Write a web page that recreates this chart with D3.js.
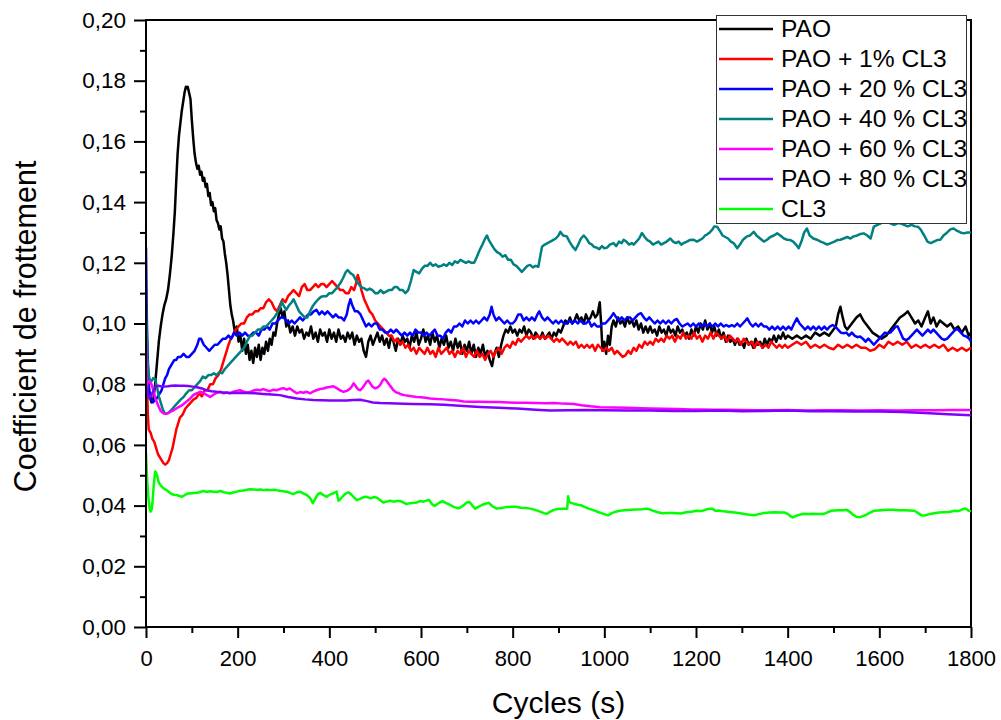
<!DOCTYPE html>
<html><head><meta charset="utf-8">
<script src="https://cdn.jsdelivr.net/npm/d3@7"></script>
<style>body{margin:0;background:#fff}svg{display:block}</style>
</head><body>
<svg id="c" width="1001" height="720"></svg>
<script>
const seriesNames = ["PAO","PAO + 1% CL3","PAO + 20 % CL3","PAO + 40 % CL3","PAO + 60 % CL3","PAO + 80 % CL3","CL3"];
const seriesColors = ["#000000","#ff0000","#0000ff","#008080","#ff00ff","#8000ff","#00ff00"];
const xTicks = [0,200,400,600,800,1000,1200,1400,1600,1800];
const yTicks = [0,0.02,0.04,0.06,0.08,0.10,0.12,0.14,0.16,0.18,0.20];
const xTitle = "Cycles (s)";
const yTitle = "Coefficient de frottement";

const pao = [[0,0.082],[4,0.079],[8,0.076],[12,0.074],[16,0.075],[20,0.080],[24,0.087],[28,0.094],[32,0.099],[36,0.103],[40,0.106],[44,0.108],[48,0.111],[52,0.116],[56,0.122],[60,0.130],[63,0.137],[66,0.147],[69,0.156],[72,0.162],[75,0.166],[78,0.170],[81,0.173],[84,0.176],[87,0.178],[89,0.1775],[91,0.178],[94,0.176],[97,0.174],[100,0.167],[103,0.161],[106,0.156],[109,0.153],[112,0.151],[115,0.152],[118,0.149],[121,0.150],[124,0.147],[127,0.148],[130,0.145],[133,0.146],[136,0.142],[139,0.143],[142,0.139],[145,0.140],[148,0.137],[151,0.138],[154,0.134],[157,0.133],[160,0.131],[163,0.132],[166,0.128],[169,0.127],[172,0.123],[175,0.120],[178,0.116],[181,0.111],[184,0.106],[187,0.103],[190,0.101],[194,0.097],[198,0.099],[202,0.094],[206,0.096],[210,0.091],[214,0.095],[218,0.090],[222,0.093],[226,0.088],[230,0.091],[234,0.087],[238,0.092],[242,0.089],[246,0.093],[250,0.088],[254,0.092],[258,0.090],[262,0.094],[266,0.091],[270,0.095],[274,0.093],[278,0.097],[282,0.096],[286,0.100],[290,0.103],[294,0.105],[298,0.102],[302,0.104],[306,0.099],[310,0.101],[315,0.097],[320,0.099],[325,0.096],[330,0.099],[335,0.097],[340,0.098],[345,0.095],[350,0.097],[355,0.096],[360,0.099],[365,0.095],[370,0.097],[375,0.094],[380,0.098],[385,0.096],[390,0.097],[395,0.094],[400,0.098],[405,0.095],[410,0.097],[415,0.094],[420,0.098],[425,0.095],[430,0.096],[435,0.094],[440,0.097],[445,0.095],[450,0.097],[455,0.093],[460,0.096],[465,0.094],[470,0.095],[475,0.091],[480,0.089],[485,0.094],[490,0.096],[495,0.093],[500,0.095],[505,0.097],[510,0.094],[515,0.096],[520,0.093],[525,0.095],[530,0.092],[535,0.096],[540,0.094],[545,0.091],[550,0.095],[555,0.093],[560,0.096],[565,0.094],[570,0.095],[575,0.092],[580,0.096],[585,0.094],[590,0.097],[595,0.093],[600,0.095],[605,0.098],[610,0.094],[615,0.096],[620,0.093],[625,0.097],[630,0.094],[635,0.096],[640,0.092],[645,0.095],[650,0.093],[655,0.096],[660,0.092],[665,0.094],[670,0.091],[675,0.095],[680,0.092],[685,0.094],[690,0.090],[695,0.093],[700,0.091],[705,0.094],[710,0.090],[715,0.093],[720,0.089],[725,0.092],[730,0.090],[735,0.093],[740,0.089],[745,0.091],[750,0.088],[755,0.086],[760,0.090],[765,0.092],[770,0.089],[775,0.093],[780,0.096],[785,0.098],[790,0.097],[795,0.099],[800,0.097],[805,0.098],[810,0.096],[815,0.098],[820,0.097],[825,0.099],[830,0.096],[835,0.098],[840,0.097],[845,0.095],[850,0.097],[855,0.096],[860,0.095],[865,0.097],[870,0.095],[875,0.096],[880,0.097],[885,0.095],[890,0.097],[895,0.096],[900,0.098],[905,0.097],[910,0.099],[915,0.101],[920,0.100],[925,0.102],[930,0.100],[935,0.101],[940,0.103],[945,0.101],[950,0.102],[955,0.100],[960,0.103],[965,0.101],[970,0.102],[975,0.104],[980,0.102],[985,0.103],[990,0.107],[993,0.100],[996,0.091],[1000,0.094],[1004,0.090],[1008,0.096],[1012,0.093],[1016,0.099],[1020,0.101],[1025,0.099],[1030,0.102],[1035,0.100],[1040,0.101],[1045,0.099],[1050,0.102],[1055,0.100],[1060,0.101],[1065,0.099],[1070,0.101],[1075,0.098],[1080,0.100],[1085,0.097],[1090,0.099],[1095,0.097],[1100,0.099],[1105,0.097],[1110,0.098],[1115,0.096],[1120,0.099],[1125,0.097],[1130,0.098],[1135,0.096],[1140,0.099],[1145,0.097],[1150,0.098],[1155,0.096],[1160,0.099],[1165,0.097],[1170,0.098],[1175,0.096],[1180,0.097],[1185,0.095],[1190,0.098],[1195,0.096],[1200,0.099],[1205,0.097],[1210,0.100],[1215,0.098],[1220,0.101],[1225,0.098],[1230,0.100],[1235,0.097],[1240,0.099],[1245,0.096],[1250,0.098],[1255,0.095],[1260,0.097],[1265,0.094],[1270,0.096],[1275,0.094],[1280,0.095],[1285,0.093],[1290,0.095],[1295,0.093],[1300,0.094],[1305,0.092],[1310,0.095],[1315,0.093],[1320,0.094],[1325,0.092],[1330,0.095],[1335,0.093],[1340,0.094],[1345,0.092],[1350,0.095],[1355,0.093],[1360,0.095],[1365,0.094],[1370,0.096],[1375,0.094],[1380,0.096],[1385,0.095],[1390,0.097],[1395,0.095],[1400,0.096],[1410,0.095],[1420,0.096],[1430,0.095],[1440,0.096],[1450,0.095],[1460,0.097],[1470,0.096],[1480,0.097],[1490,0.096],[1500,0.098],[1505,0.099],[1510,0.103],[1515,0.1055],[1520,0.102],[1525,0.099],[1530,0.098],[1540,0.100],[1550,0.102],[1558,0.103],[1565,0.101],[1575,0.099],[1585,0.097],[1595,0.096],[1605,0.095],[1615,0.096],[1625,0.098],[1635,0.100],[1645,0.102],[1655,0.103],[1662,0.104],[1670,0.102],[1678,0.100],[1685,0.101],[1692,0.099],[1700,0.102],[1706,0.104],[1712,0.100],[1718,0.102],[1725,0.099],[1732,0.101],[1740,0.100],[1748,0.099],[1756,0.100],[1764,0.098],[1772,0.099],[1780,0.097],[1788,0.099],[1795,0.096],[1800,0.097]];

const pao1 = [[0,0.094],[2,0.082],[4,0.070],[6,0.065],[10,0.064],[14,0.062],[18,0.061],[22,0.059],[26,0.057],[30,0.056],[34,0.055],[38,0.054],[42,0.0535],[46,0.054],[50,0.055],[54,0.057],[58,0.059],[62,0.062],[66,0.065],[70,0.067],[74,0.069],[80,0.070],[86,0.072],[92,0.073],[98,0.074],[104,0.075],[110,0.0755],[116,0.077],[122,0.076],[128,0.078],[134,0.078],[140,0.080],[146,0.080],[152,0.082],[158,0.083],[164,0.085],[168,0.087],[172,0.089],[176,0.091],[180,0.093],[185,0.095],[190,0.096],[196,0.098],[202,0.099],[208,0.100],[214,0.100],[220,0.102],[226,0.103],[232,0.103],[238,0.104],[244,0.104],[250,0.105],[256,0.105],[262,0.107],[268,0.108],[274,0.107],[280,0.105],[286,0.104],[292,0.106],[298,0.108],[304,0.107],[310,0.109],[316,0.110],[322,0.111],[328,0.110],[334,0.109],[340,0.112],[346,0.113],[352,0.111],[358,0.111],[364,0.112],[370,0.113],[376,0.112],[382,0.113],[388,0.113],[394,0.112],[400,0.113],[406,0.114],[412,0.113],[418,0.112],[424,0.111],[430,0.111],[436,0.110],[442,0.110],[448,0.112],[454,0.111],[458,0.113],[462,0.116],[466,0.114],[470,0.111],[476,0.108],[482,0.106],[488,0.104],[494,0.103],[500,0.101],[506,0.100],[512,0.099],[518,0.098],[524,0.097],[530,0.096],[536,0.096],[542,0.094],[548,0.095],[554,0.093],[560,0.094],[566,0.092],[572,0.093],[578,0.091],[584,0.092],[590,0.090],[596,0.092],[602,0.091],[608,0.090],[614,0.092],[620,0.090],[626,0.091],[632,0.089],[638,0.092],[644,0.090],[650,0.091],[656,0.092],[662,0.090],[668,0.091],[674,0.089],[680,0.091],[686,0.090],[692,0.092],[698,0.089],[704,0.091],[710,0.090],[716,0.089],[722,0.091],[728,0.089],[734,0.090],[740,0.088],[746,0.090],[752,0.091],[758,0.089],[764,0.091],[770,0.092],[776,0.090],[782,0.092],[788,0.093],[794,0.092],[800,0.094],[806,0.093],[812,0.095],[818,0.094],[824,0.095],[830,0.096],[836,0.095],[842,0.096],[848,0.095],[854,0.096],[860,0.095],[866,0.096],[872,0.095],[878,0.096],[884,0.095],[890,0.094],[896,0.095],[902,0.094],[908,0.095],[914,0.094],[920,0.093],[926,0.094],[932,0.093],[938,0.094],[944,0.092],[950,0.093],[956,0.092],[962,0.093],[968,0.092],[974,0.093],[980,0.091],[986,0.093],[992,0.092],[998,0.091],[1004,0.092],[1010,0.091],[1016,0.092],[1022,0.090],[1028,0.091],[1034,0.090],[1040,0.089],[1046,0.0895],[1052,0.091],[1058,0.090],[1064,0.092],[1070,0.091],[1076,0.093],[1082,0.092],[1088,0.094],[1094,0.093],[1100,0.094],[1106,0.093],[1112,0.095],[1118,0.094],[1124,0.095],[1130,0.094],[1136,0.096],[1142,0.095],[1148,0.096],[1154,0.094],[1160,0.096],[1166,0.095],[1172,0.097],[1178,0.095],[1184,0.096],[1190,0.095],[1196,0.097],[1202,0.095],[1208,0.096],[1214,0.094],[1220,0.096],[1226,0.095],[1232,0.097],[1238,0.095],[1244,0.097],[1250,0.096],[1256,0.095],[1262,0.096],[1268,0.094],[1274,0.096],[1280,0.095],[1286,0.094],[1292,0.095],[1298,0.093],[1304,0.095],[1310,0.094],[1316,0.093],[1322,0.094],[1328,0.092],[1334,0.094],[1340,0.093],[1346,0.092],[1352,0.093],[1358,0.092],[1364,0.094],[1370,0.093],[1376,0.092],[1382,0.093],[1388,0.092],[1394,0.093],[1400,0.092],[1410,0.093],[1420,0.094],[1430,0.093],[1440,0.094],[1450,0.092],[1460,0.093],[1470,0.092],[1480,0.093],[1490,0.092],[1500,0.0915],[1510,0.093],[1520,0.092],[1530,0.093],[1540,0.092],[1550,0.093],[1560,0.092],[1570,0.092],[1580,0.091],[1590,0.0915],[1600,0.093],[1610,0.092],[1620,0.094],[1630,0.093],[1640,0.094],[1650,0.093],[1660,0.094],[1670,0.092],[1680,0.093],[1690,0.092],[1700,0.093],[1710,0.092],[1720,0.093],[1730,0.092],[1740,0.093],[1750,0.091],[1760,0.092],[1770,0.091],[1780,0.092],[1790,0.091],[1800,0.092]];

const pao20 = [[0,0.125],[1,0.112],[2,0.100],[4,0.088],[6,0.080],[9,0.076],[12,0.075],[15,0.074],[18,0.0745],[22,0.075],[26,0.076],[30,0.077],[34,0.078],[38,0.080],[42,0.082],[46,0.083],[50,0.085],[54,0.086],[58,0.087],[62,0.088],[66,0.088],[70,0.089],[76,0.089],[82,0.090],[88,0.089],[94,0.089],[100,0.090],[106,0.091],[112,0.093],[116,0.095],[120,0.095],[126,0.093],[132,0.092],[138,0.091],[144,0.092],[150,0.093],[156,0.093],[162,0.094],[168,0.095],[174,0.095],[180,0.096],[186,0.095],[192,0.097],[198,0.096],[204,0.097],[210,0.096],[216,0.097],[222,0.096],[228,0.096],[234,0.097],[240,0.097],[246,0.096],[252,0.098],[258,0.098],[264,0.099],[270,0.098],[276,0.100],[282,0.100],[288,0.101],[294,0.102],[300,0.102],[306,0.101],[312,0.100],[318,0.101],[324,0.100],[330,0.101],[336,0.102],[342,0.101],[348,0.102],[354,0.103],[360,0.103],[366,0.104],[372,0.1045],[378,0.103],[384,0.104],[390,0.103],[396,0.104],[402,0.103],[408,0.102],[414,0.103],[420,0.102],[426,0.102],[432,0.101],[438,0.103],[442,0.106],[446,0.108],[450,0.106],[456,0.104],[462,0.104],[468,0.103],[474,0.101],[480,0.099],[486,0.100],[492,0.099],[498,0.100],[504,0.100],[510,0.098],[516,0.098],[522,0.097],[528,0.097],[534,0.098],[540,0.097],[546,0.098],[552,0.097],[558,0.096],[564,0.097],[570,0.096],[576,0.097],[582,0.096],[588,0.098],[594,0.097],[600,0.097],[606,0.096],[612,0.097],[618,0.096],[624,0.097],[630,0.098],[636,0.096],[642,0.096],[648,0.095],[654,0.097],[660,0.098],[666,0.097],[672,0.099],[678,0.099],[684,0.100],[690,0.099],[696,0.101],[702,0.100],[708,0.101],[714,0.100],[720,0.101],[726,0.100],[732,0.101],[738,0.102],[744,0.101],[750,0.103],[754,0.1055],[758,0.103],[764,0.101],[770,0.102],[776,0.101],[782,0.100],[788,0.101],[794,0.100],[800,0.100],[806,0.101],[812,0.103],[818,0.103],[824,0.101],[830,0.102],[836,0.101],[842,0.102],[848,0.101],[854,0.103],[858,0.104],[864,0.102],[870,0.101],[876,0.102],[882,0.101],[888,0.100],[894,0.101],[900,0.100],[906,0.101],[912,0.100],[918,0.100],[924,0.101],[930,0.100],[936,0.101],[942,0.100],[948,0.101],[954,0.100],[960,0.100],[966,0.101],[972,0.099],[978,0.100],[984,0.099],[990,0.099],[996,0.100],[1002,0.100],[1008,0.101],[1014,0.102],[1020,0.1034],[1026,0.102],[1032,0.101],[1038,0.102],[1044,0.101],[1050,0.102],[1056,0.102],[1062,0.101],[1068,0.102],[1074,0.103],[1080,0.1034],[1086,0.102],[1092,0.101],[1098,0.102],[1104,0.101],[1110,0.100],[1116,0.101],[1122,0.100],[1128,0.101],[1134,0.100],[1140,0.101],[1146,0.100],[1152,0.101],[1158,0.1015],[1164,0.100],[1170,0.099],[1176,0.0995],[1182,0.100],[1188,0.099],[1194,0.100],[1200,0.099],[1206,0.100],[1212,0.099],[1218,0.100],[1224,0.099],[1230,0.100],[1236,0.099],[1242,0.100],[1248,0.099],[1254,0.100],[1260,0.099],[1266,0.0995],[1272,0.099],[1278,0.0995],[1284,0.099],[1290,0.100],[1296,0.099],[1302,0.100],[1308,0.101],[1312,0.1017],[1318,0.100],[1324,0.099],[1330,0.100],[1336,0.099],[1342,0.100],[1348,0.099],[1354,0.099],[1360,0.098],[1366,0.099],[1372,0.098],[1378,0.099],[1384,0.098],[1390,0.099],[1396,0.098],[1402,0.099],[1408,0.098],[1414,0.100],[1420,0.1017],[1426,0.100],[1432,0.099],[1438,0.098],[1444,0.099],[1450,0.098],[1456,0.099],[1462,0.098],[1468,0.099],[1474,0.098],[1480,0.099],[1486,0.098],[1492,0.099],[1498,0.0995],[1504,0.099],[1510,0.098],[1516,0.097],[1522,0.0968],[1528,0.097],[1534,0.096],[1540,0.097],[1546,0.096],[1552,0.0955],[1558,0.0957],[1564,0.095],[1570,0.094],[1576,0.095],[1582,0.094],[1588,0.093],[1594,0.094],[1600,0.095],[1606,0.096],[1612,0.097],[1618,0.0968],[1624,0.097],[1630,0.098],[1636,0.099],[1640,0.099],[1646,0.097],[1652,0.095],[1658,0.0945],[1664,0.095],[1670,0.096],[1676,0.097],[1682,0.098],[1688,0.097],[1694,0.096],[1700,0.097],[1706,0.098],[1712,0.097],[1718,0.098],[1724,0.097],[1730,0.096],[1736,0.095],[1742,0.0946],[1748,0.095],[1754,0.096],[1760,0.097],[1766,0.098],[1772,0.098],[1778,0.097],[1784,0.096],[1790,0.0957],[1796,0.095],[1800,0.094]];

const pao40 = [[0,0.110],[1,0.100],[3,0.088],[6,0.083],[9,0.081],[12,0.081],[16,0.082],[20,0.0817],[24,0.079],[28,0.076],[32,0.074],[36,0.072],[40,0.0705],[44,0.0703],[48,0.0705],[52,0.071],[58,0.072],[64,0.073],[70,0.074],[76,0.075],[82,0.0758],[88,0.077],[94,0.078],[100,0.078],[106,0.079],[112,0.080],[118,0.081],[124,0.0825],[130,0.082],[136,0.083],[142,0.083],[148,0.0836],[154,0.083],[160,0.084],[166,0.0836],[172,0.085],[178,0.086],[184,0.087],[190,0.088],[196,0.089],[202,0.090],[208,0.091],[214,0.092],[220,0.094],[226,0.0957],[232,0.096],[238,0.097],[244,0.098],[250,0.098],[256,0.099],[262,0.099],[268,0.100],[274,0.101],[280,0.102],[286,0.1034],[292,0.105],[296,0.1072],[300,0.106],[306,0.1045],[312,0.106],[318,0.107],[322,0.108],[328,0.106],[334,0.104],[340,0.103],[346,0.102],[352,0.102],[358,0.104],[364,0.1058],[370,0.107],[376,0.108],[382,0.1088],[388,0.109],[394,0.109],[400,0.110],[406,0.110],[412,0.111],[418,0.112],[424,0.1133],[430,0.115],[436,0.117],[440,0.1176],[446,0.1166],[452,0.116],[458,0.1143],[464,0.113],[470,0.112],[476,0.1116],[482,0.111],[488,0.1115],[494,0.111],[500,0.110],[506,0.110],[512,0.111],[518,0.110],[524,0.1105],[530,0.111],[536,0.111],[542,0.112],[548,0.112],[554,0.111],[560,0.111],[566,0.110],[572,0.111],[578,0.114],[584,0.1176],[590,0.117],[596,0.1165],[602,0.118],[608,0.119],[614,0.119],[620,0.120],[626,0.119],[632,0.1195],[638,0.1187],[644,0.119],[650,0.1195],[656,0.119],[662,0.120],[668,0.1193],[674,0.1205],[680,0.120],[686,0.121],[692,0.1205],[698,0.120],[704,0.1205],[710,0.120],[716,0.120],[722,0.122],[728,0.1242],[734,0.126],[740,0.128],[744,0.129],[748,0.1275],[754,0.126],[760,0.1245],[766,0.1235],[772,0.123],[778,0.122],[784,0.1225],[790,0.121],[796,0.121],[802,0.1195],[808,0.119],[814,0.118],[820,0.117],[826,0.118],[832,0.119],[838,0.1193],[844,0.1185],[850,0.119],[856,0.1187],[860,0.122],[864,0.1253],[870,0.126],[876,0.1265],[882,0.127],[888,0.1275],[894,0.128],[900,0.129],[904,0.1302],[910,0.129],[918,0.1287],[924,0.127],[930,0.1255],[937,0.1242],[943,0.126],[949,0.128],[955,0.129],[961,0.128],[967,0.1265],[973,0.126],[977,0.1253],[983,0.125],[989,0.1245],[995,0.1255],[1000,0.1248],[1006,0.125],[1012,0.126],[1020,0.1265],[1026,0.1255],[1032,0.127],[1038,0.1265],[1042,0.1276],[1048,0.127],[1054,0.126],[1060,0.1265],[1064,0.126],[1070,0.127],[1076,0.128],[1082,0.1298],[1088,0.1285],[1094,0.1275],[1100,0.127],[1106,0.126],[1112,0.1265],[1118,0.127],[1124,0.126],[1130,0.1265],[1136,0.127],[1144,0.128],[1150,0.127],[1156,0.1265],[1162,0.127],[1168,0.126],[1173,0.1265],[1180,0.127],[1186,0.1275],[1195,0.1276],[1202,0.127],[1208,0.1275],[1214,0.128],[1220,0.129],[1224,0.1293],[1230,0.130],[1236,0.131],[1240,0.132],[1246,0.1319],[1252,0.1305],[1258,0.129],[1264,0.1285],[1270,0.128],[1276,0.127],[1282,0.1265],[1290,0.1248],[1296,0.126],[1302,0.1275],[1311,0.1287],[1318,0.129],[1326,0.1302],[1332,0.129],[1340,0.128],[1348,0.127],[1355,0.1276],[1362,0.1285],[1370,0.129],[1377,0.1297],[1384,0.129],[1392,0.128],[1399,0.1276],[1406,0.1275],[1412,0.127],[1418,0.126],[1424,0.1248],[1430,0.127],[1436,0.130],[1442,0.1313],[1448,0.129],[1456,0.128],[1464,0.1276],[1472,0.127],[1480,0.1265],[1486,0.126],[1494,0.1265],[1502,0.127],[1508,0.1275],[1515,0.1276],[1522,0.128],[1530,0.1285],[1537,0.128],[1544,0.1287],[1552,0.129],[1559,0.1295],[1566,0.1297],[1574,0.129],[1581,0.128],[1588,0.1319],[1596,0.1325],[1603,0.133],[1610,0.1335],[1617,0.1341],[1624,0.133],[1632,0.1325],[1640,0.133],[1646,0.133],[1654,0.1325],[1662,0.132],[1670,0.1325],[1678,0.132],[1684,0.1319],[1690,0.131],[1698,0.129],[1705,0.127],[1712,0.1265],[1719,0.127],[1726,0.1275],[1733,0.1276],[1740,0.129],[1748,0.130],[1755,0.131],[1762,0.1313],[1770,0.1305],[1777,0.130],[1784,0.1297],[1792,0.130],[1800,0.130]];

const pao60 = [[0,0.094],[1,0.085],[2,0.077],[3,0.0807],[6,0.081],[9,0.0805],[12,0.080],[16,0.078],[20,0.0755],[24,0.074],[28,0.0725],[32,0.0712],[36,0.0706],[40,0.0703],[45,0.0703],[50,0.0706],[55,0.071],[60,0.0714],[66,0.072],[72,0.0725],[78,0.073],[84,0.0737],[90,0.0745],[96,0.0752],[103,0.0764],[110,0.077],[118,0.0775],[124,0.0772],[132,0.0765],[140,0.0758],[148,0.0766],[155,0.0772],[162,0.0775],[170,0.077],[176,0.0773],[183,0.077],[190,0.0775],[198,0.0778],[205,0.078],[212,0.0776],[220,0.0773],[227,0.0774],[234,0.0779],[242,0.0782],[249,0.078],[256,0.0784],[263,0.078],[270,0.0777],[278,0.0782],[285,0.078],[292,0.0784],[300,0.0787],[307,0.0782],[314,0.0786],[321,0.0778],[329,0.077],[336,0.0774],[343,0.0772],[351,0.0775],[358,0.077],[365,0.0776],[372,0.078],[380,0.0784],[387,0.0786],[394,0.0789],[401,0.0791],[409,0.0793],[416,0.0787],[423,0.078],[431,0.0775],[438,0.0778],[445,0.0785],[450,0.0795],[453,0.0803],[457,0.0795],[462,0.0784],[467,0.078],[472,0.0787],[477,0.0798],[481,0.0808],[485,0.0812],[489,0.0803],[494,0.0792],[500,0.0786],[506,0.079],[511,0.0798],[516,0.0812],[520,0.0818],[524,0.0813],[529,0.0802],[534,0.0792],[540,0.078],[546,0.0773],[552,0.077],[558,0.0766],[564,0.0764],[572,0.0762],[580,0.076],[590,0.0758],[600,0.0757],[610,0.0755],[620,0.0753],[635,0.0751],[650,0.075],[664,0.0748],[680,0.0746],[693,0.0743],[710,0.0742],[729,0.0742],[750,0.0741],[770,0.0741],[790,0.074],[809,0.0739],[830,0.0739],[850,0.0738],[870,0.0737],[890,0.0738],[910,0.0736],[933,0.0735],[950,0.0731],[970,0.0727],[991,0.0724],[1020,0.0723],[1050,0.0722],[1080,0.0721],[1100,0.072],[1130,0.0719],[1160,0.0718],[1190,0.0717],[1209,0.0717],[1240,0.0716],[1270,0.0716],[1300,0.0715],[1330,0.0714],[1360,0.0714],[1400,0.0715],[1440,0.0713],[1480,0.0714],[1520,0.0714],[1560,0.0713],[1600,0.0714],[1640,0.0713],[1680,0.0714],[1720,0.0714],[1760,0.0715],[1800,0.0715]];

const pao80 = [[0,0.080],[3,0.077],[6,0.0755],[10,0.076],[15,0.0775],[20,0.079],[26,0.0795],[32,0.0793],[40,0.0792],[48,0.0793],[56,0.0795],[64,0.0796],[72,0.0795],[82,0.0795],[92,0.0794],[102,0.0792],[111,0.079],[122,0.0786],[132,0.078],[143,0.0777],[154,0.0775],[168,0.0773],[183,0.0771],[200,0.0771],[220,0.0771],[238,0.077],[256,0.0768],[274,0.0766],[292,0.0764],[310,0.0758],[329,0.0753],[347,0.075],[365,0.0748],[383,0.0747],[402,0.0746],[420,0.0746],[438,0.0746],[452,0.0748],[467,0.0749],[480,0.0745],[495,0.074],[511,0.0738],[530,0.0737],[547,0.0736],[580,0.0735],[620,0.0734],[650,0.0732],[693,0.0728],[729,0.0725],[770,0.0722],[809,0.072],[850,0.0716],[882,0.0713],[920,0.0714],[960,0.0715],[1000,0.0714],[1050,0.0713],[1100,0.0713],[1150,0.0712],[1200,0.0712],[1250,0.0713],[1300,0.0711],[1350,0.0712],[1400,0.0713],[1450,0.0711],[1500,0.0711],[1550,0.071],[1600,0.071],[1650,0.0708],[1700,0.0705],[1750,0.0701],[1800,0.0698]];

const cl3 = [[0,0.0573],[2,0.050],[5,0.0429],[8,0.039],[10,0.038],[12,0.0385],[14,0.0407],[17,0.047],[20,0.0512],[22,0.0508],[24,0.050],[27,0.048],[31,0.0468],[36,0.046],[40,0.0455],[45,0.0451],[50,0.0445],[56,0.0438],[61,0.0436],[67,0.0435],[72,0.0432],[78,0.0429],[85,0.0435],[92,0.044],[100,0.0441],[111,0.0442],[118,0.0445],[125,0.0448],[133,0.0445],[140,0.0447],[147,0.0446],[155,0.0445],[162,0.0448],[170,0.0444],[176,0.0442],[183,0.044],[190,0.0443],[198,0.0446],[205,0.0449],[212,0.045],[220,0.0452],[227,0.0454],[235,0.0453],[242,0.0452],[250,0.0453],[256,0.0451],[264,0.0452],[272,0.0451],[280,0.0452],[285,0.0451],[292,0.0449],[300,0.0447],[307,0.0446],[314,0.0442],[321,0.0438],[328,0.0443],[336,0.0446],[343,0.044],[351,0.0435],[358,0.0425],[364,0.0408],[370,0.0425],[375,0.0438],[380,0.0442],[387,0.0435],[394,0.0429],[401,0.0436],[408,0.044],[416,0.0446],[418,0.043],[420,0.0416],[426,0.0425],[434,0.0438],[442,0.0444],[449,0.0435],[455,0.0425],[460,0.0418],[467,0.0422],[475,0.0428],[482,0.0429],[490,0.0424],[497,0.0428],[504,0.0426],[511,0.0418],[518,0.041],[525,0.0413],[533,0.0416],[540,0.0413],[547,0.0415],[555,0.0415],[562,0.041],[569,0.0405],[576,0.0408],[588,0.0409],[598,0.0415],[605,0.0413],[617,0.0419],[624,0.0405],[630,0.0399],[638,0.0408],[647,0.0415],[655,0.0408],[664,0.0402],[672,0.0395],[682,0.0391],[690,0.0398],[700,0.041],[706,0.0412],[712,0.04],[718,0.039],[724,0.0395],[733,0.0402],[740,0.0406],[748,0.0409],[756,0.0398],[765,0.039],[775,0.0392],[786,0.0395],[797,0.0396],[807,0.0396],[818,0.0393],[829,0.0392],[839,0.039],[849,0.0386],[860,0.038],[868,0.0375],[874,0.0373],[882,0.038],[890,0.0386],[898,0.0389],[907,0.039],[914,0.039],[919,0.039],[921,0.0431],[923,0.0412],[928,0.0409],[936,0.0405],[944,0.0402],[951,0.04],[958,0.0395],[966,0.039],[976,0.0385],[988,0.0378],[1000,0.0372],[1008,0.0368],[1016,0.0375],[1025,0.038],[1033,0.0383],[1045,0.0385],[1058,0.0386],[1070,0.0387],[1082,0.0388],[1092,0.039],[1100,0.0387],[1108,0.0382],[1117,0.0378],[1126,0.0375],[1137,0.0376],[1148,0.0376],[1158,0.0375],[1167,0.0374],[1178,0.0378],[1190,0.038],[1201,0.0383],[1212,0.0382],[1224,0.0388],[1230,0.039],[1235,0.039],[1242,0.0383],[1250,0.0384],[1260,0.0381],[1272,0.0379],[1285,0.0377],[1296,0.0375],[1306,0.0372],[1316,0.037],[1327,0.0368],[1337,0.0372],[1349,0.0376],[1361,0.0377],[1372,0.0378],[1383,0.0377],[1394,0.0377],[1401,0.0372],[1406,0.0365],[1411,0.0361],[1418,0.0366],[1426,0.037],[1435,0.0373],[1445,0.0372],[1456,0.0373],[1467,0.0372],[1478,0.0372],[1487,0.0378],[1495,0.0383],[1503,0.0384],[1512,0.0385],[1520,0.0385],[1529,0.0386],[1536,0.0379],[1543,0.037],[1550,0.0363],[1558,0.0362],[1566,0.0366],[1574,0.0372],[1581,0.0378],[1588,0.0383],[1597,0.0384],[1606,0.0385],[1618,0.0386],[1630,0.0386],[1642,0.0385],[1654,0.0385],[1665,0.0384],[1676,0.0383],[1682,0.0378],[1688,0.0372],[1693,0.0367],[1700,0.0368],[1710,0.0372],[1720,0.0375],[1730,0.0377],[1740,0.0378],[1752,0.0379],[1764,0.0383],[1772,0.0382],[1778,0.0385],[1784,0.039],[1789,0.039],[1794,0.0384],[1800,0.0381]];

const seriesData = [pao, pao1, pao20, pao40, pao60, pao80, cl3];

const svg = d3.select("#c");
const FONT = "'Liberation Sans', Arial, sans-serif";
const L = 146, R = 971, T = 20, B = 627;
const x = d3.scaleLinear().domain([0, 1800]).range([L, R]);
const y = d3.scaleLinear().domain([0, 0.2]).range([B, T]);
const fmtY = d => d3.format(".2f")(d).replace(".", ",");
const fmtX = d3.format("d");

svg.append("defs").append("clipPath").attr("id","clip")
  .append("rect").attr("x", L).attr("y", T - 2).attr("width", R - L + 2).attr("height", B - T + 2);

// frame top & right
svg.append("line").attr("x1", L).attr("x2", R).attr("y1", T).attr("y2", T).attr("stroke","#000").attr("stroke-width",2);
svg.append("line").attr("x1", R).attr("x2", R).attr("y1", T - 1).attr("y2", B).attr("stroke","#000").attr("stroke-width",2);

// lines
const line = d3.line().x(d => x(d[0])).y(d => y(d[1]));
const gLines = svg.append("g").attr("clip-path","url(#clip)");
seriesData.forEach((s, i) => {
  gLines.append("path").datum(s).attr("d", line).attr("fill","none")
    .attr("stroke", seriesColors[i]).attr("stroke-width", 2.5).attr("stroke-linejoin","round");
});

// minor ticks
const xMinor = d3.range(100, 1800, 200);
const yMinor = d3.range(1, 20, 2).map(k => k / 100);
svg.append("g").attr("transform", `translate(0,${B})`)
  .call(d3.axisBottom(x).tickValues(xMinor).tickSize(6).tickSizeOuter(0).tickFormat(""))
  .call(g => g.select(".domain").remove())
  .call(g => g.selectAll("line").attr("stroke-width", 2));
svg.append("g").attr("transform", `translate(${L},0)`)
  .call(d3.axisLeft(y).tickValues(yMinor).tickSize(6).tickSizeOuter(0).tickFormat(""))
  .call(g => g.select(".domain").remove())
  .call(g => g.selectAll("line").attr("stroke-width", 2));

// major axes
const xAxis = svg.append("g").attr("transform", `translate(0,${B})`)
  .call(d3.axisBottom(x).tickValues(xTicks).tickSize(11).tickSizeOuter(0).tickPadding(12).tickFormat(fmtX));
const yAxis = svg.append("g").attr("transform", `translate(${L},0)`)
  .call(d3.axisLeft(y).tickValues(yTicks).tickSize(12).tickSizeOuter(0).tickPadding(8).tickFormat(fmtY));
[xAxis, yAxis].forEach(g => {
  g.select(".domain").attr("stroke-width", 2);
  g.selectAll("line").attr("stroke-width", 2);
  g.selectAll("text").attr("font-family", FONT).attr("font-size", 22).attr("fill","#000");
});
yAxis.selectAll("text").attr("font-size", 22.5);
yAxis.select(".domain").attr("d", `M0,${B+1}V${T-1}`);
xAxis.select(".domain").attr("d", `M${L-1},0H${R+1}`);

// titles
svg.append("text").attr("x", (L + R) / 2).attr("y", 713).attr("text-anchor","middle")
  .attr("font-family", FONT).attr("font-size", 30).text(xTitle);
svg.append("text").attr("transform", `translate(36,${(T + B) / 2 + 3}) rotate(-90)`).attr("text-anchor","middle")
  .attr("font-family", FONT).attr("font-size", 30.5).text(yTitle);

// legend
const lg = svg.append("g");
lg.append("rect").attr("x", 716.5).attr("y", 15.5).attr("width", 250).attr("height", 208)
  .attr("fill","#fff").attr("stroke","#333").attr("stroke-width",1);
seriesNames.forEach((n, i) => {
  const yy = 29 + i * 30;
  lg.append("line").attr("x1", 719).attr("x2", 773).attr("y1", yy).attr("y2", yy)
    .attr("stroke", seriesColors[i]).attr("stroke-width", 2.5);
  lg.append("text").attr("transform", `translate(781,${yy + 8}) scale(1.07,1)`)
    .attr("font-family", FONT).attr("font-size", 23).text(n);
});
</script>
</body></html>
